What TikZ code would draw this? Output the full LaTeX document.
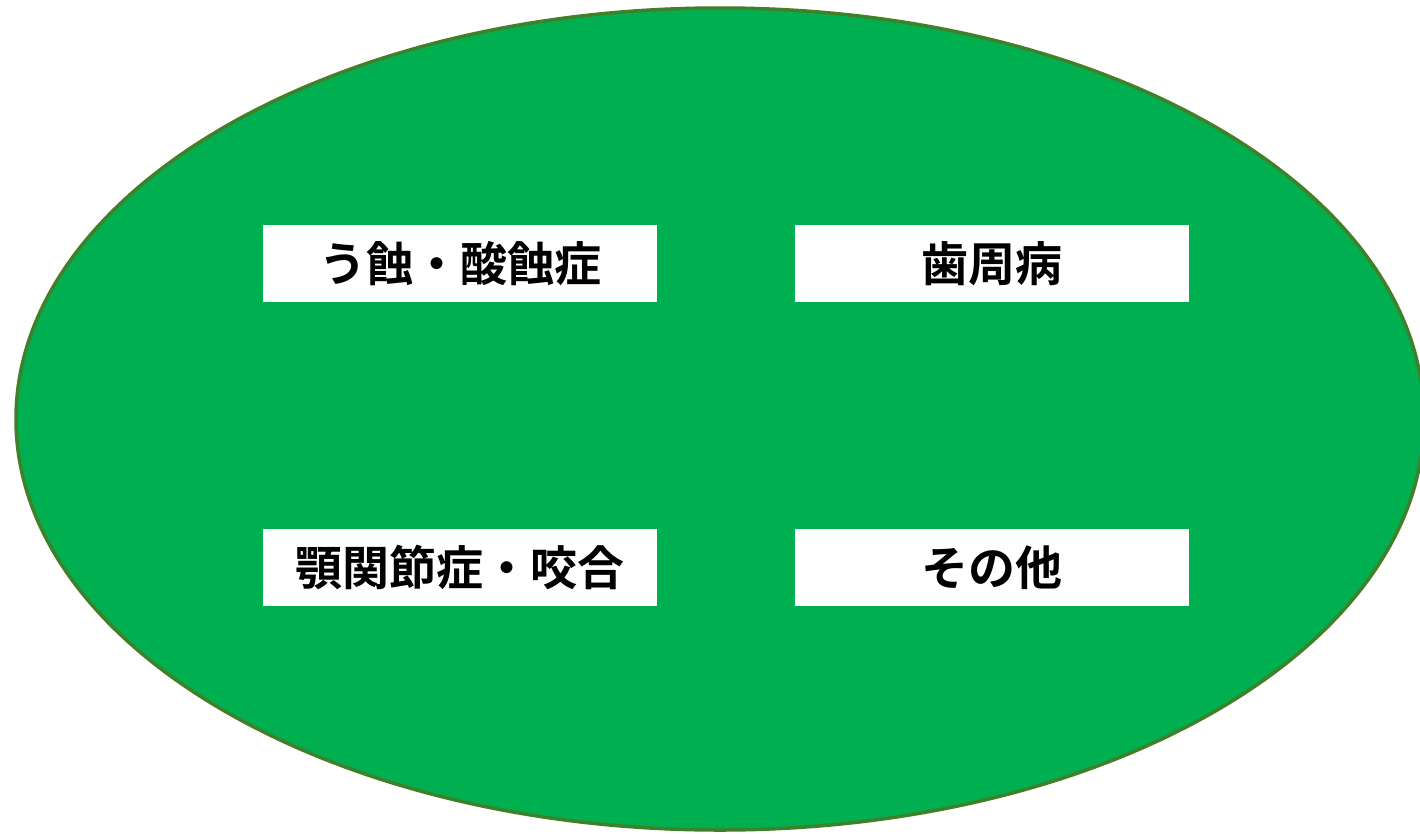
\documentclass[tikz,border=0pt]{standalone}
\usepackage{fontspec}
\usetikzlibrary{shapes.geometric}
\newfontfamily\cjk{Noto Sans CJK JP}[BoldFont={* Bold}]
\definecolor{fillgreen}{HTML}{00B050}
\definecolor{edgegreen}{HTML}{41802A}
\begin{document}
\begin{tikzpicture}[x=1pt,y=-1pt,
  labelbox/.style={fill=white,draw=none,minimum width=394pt,minimum height=77pt,inner sep=0pt,font=\cjk\bfseries\fontsize{47}{52}\selectfont}]
\useasboundingbox (0,0) rectangle (1420,833);
\clip (0,0) rectangle (1420,833);
\fill[white] (0,0) rectangle (1420,833);
\node[ellipse,draw=edgegreen,fill=fillgreen,line width=3.5pt,minimum width=1408pt,minimum height=822pt,inner sep=0pt] (oval) at (720,419) {};
\node[labelbox] (caries) at (460,263.5) {う蝕・酸蝕症};
\node[labelbox] (perio) at (992,263.5) {歯周病};
\node[labelbox] (tmj) at (460,567.5) {顎関節症・咬合};
\node[labelbox] (other) at (992,567.5) {その他};
\end{tikzpicture}
\end{document}
